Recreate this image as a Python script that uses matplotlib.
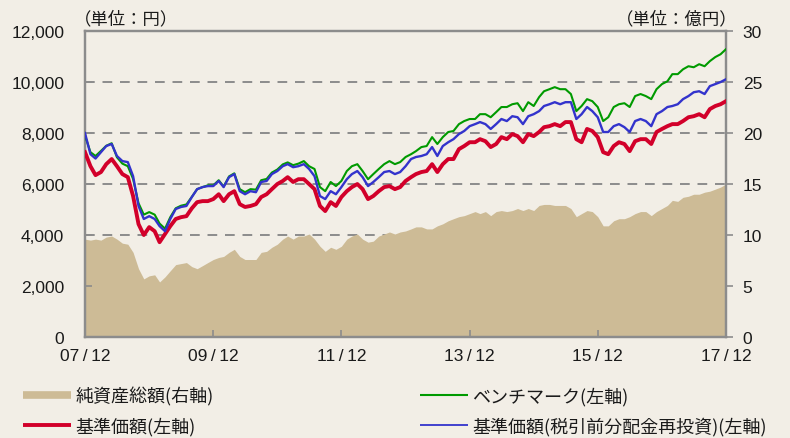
import numpy as np
import pandas as pd
import matplotlib
matplotlib.use("Agg")
import matplotlib.pyplot as plt
from matplotlib.lines import Line2D

# 月末データ 2007/12 - 2017/12
dates = pd.date_range("2007-12-31", periods=121, freq="ME")

# 基準価額（円）
nav = [
    7250, 6700, 6350, 6470, 6780, 6980, 6700, 6390, 6270, 5530,
    4430, 4000, 4310, 4150, 3720, 4040, 4350, 4630, 4700, 4740,
    5050, 5290, 5330, 5330, 5410, 5600, 5330, 5600, 5720, 5210,
    5100, 5140, 5210, 5490, 5600, 5800, 6000, 6120, 6270, 6080,
    6190, 6190, 6000, 5800, 5140, 4940, 5290, 5140, 5490, 5720,
    5880, 6000, 5800, 5410, 5530, 5720, 5880, 5920, 5800, 5880,
    6120, 6270, 6390, 6470, 6510, 6780, 6470, 6780, 6980, 6980,
    7370, 7490, 7640, 7640, 7760, 7680, 7450, 7570, 7840, 7760,
    7960, 7880, 7640, 7960, 7880, 8040, 8230, 8270, 8350, 8270,
    8430, 8430, 7760, 7640, 8160, 8080, 7840, 7250, 7170, 7490,
    7640, 7570, 7290, 7680, 7760, 7760, 7570, 8040, 8160, 8270,
    8350, 8350, 8470, 8620, 8660, 8740, 8620, 8940, 9060, 9130,
    9250,
]

# 基準価額（税引前分配金再投資）
nav_reinv = [
    8000, 7170, 7000, 7250, 7490, 7570, 7100, 6900, 6860, 6310,
    5140, 4630, 4740, 4630, 4350, 4150, 4630, 5020, 5100, 5140,
    5490, 5800, 5880, 5920, 5920, 6120, 5880, 6270, 6390, 5720,
    5600, 5720, 5680, 6080, 6120, 6390, 6510, 6700, 6780, 6660,
    6700, 6780, 6590, 6310, 5530, 5410, 5720, 5600, 5880, 6190,
    6390, 6510, 6270, 5920, 6080, 6270, 6470, 6510, 6390, 6470,
    6700, 6980, 7060, 7100, 7170, 7450, 7100, 7490, 7640, 7760,
    7960, 8080, 8270, 8350, 8430, 8350, 8160, 8350, 8550, 8470,
    8660, 8620, 8350, 8660, 8740, 8860, 9060, 9130, 9210, 9130,
    9210, 9210, 8550, 8740, 9020, 8860, 8620, 8040, 8040, 8270,
    8350, 8230, 8040, 8470, 8550, 8470, 8270, 8740, 8860, 9020,
    9060, 9130, 9330, 9450, 9600, 9640, 9530, 9840, 9920, 10000,
    10110,
]

# ベンチマーク
bench = [
    7900, 7250, 7100, 7300, 7500, 7600, 7050, 6800, 6700, 6200,
    5250, 4800, 4900, 4800, 4450, 4250, 4700, 5050, 5150, 5200,
    5500, 5800, 5880, 5950, 5950, 6150, 5900, 6300, 6420, 5800,
    5680, 5800, 5780, 6150, 6200, 6450, 6570, 6770, 6850, 6740,
    6800, 6900, 6700, 6590, 5880, 5720, 6080, 5920, 6120, 6510,
    6700, 6780, 6510, 6190, 6390, 6590, 6780, 6900, 6780, 6860,
    7060, 7170, 7290, 7450, 7490, 7840, 7570, 7840, 8040, 8080,
    8350, 8470, 8550, 8550, 8740, 8740, 8620, 8820, 9020, 9020,
    9130, 9170, 8860, 9210, 9060, 9410, 9640, 9720, 9800, 9720,
    9720, 9530, 8860, 9060, 9330, 9250, 9020, 8470, 8620, 9020,
    9130, 9170, 9020, 9450, 9530, 9450, 9330, 9720, 9920, 10030,
    10310, 10310, 10500, 10620, 10580, 10700, 10620, 10820, 10980, 11090,
    11290,
]

# 純資産総額（億円）
net_assets = [
    9.6, 9.5, 9.6, 9.5, 9.8, 9.9, 9.6, 9.2, 9.1, 8.3,
    6.7, 5.7, 6.0, 6.1, 5.4, 5.9, 6.5, 7.1, 7.2, 7.3,
    6.9, 6.7, 7.0, 7.3, 7.6, 7.8, 7.9, 8.3, 8.6, 7.9,
    7.6, 7.6, 7.6, 8.3, 8.4, 8.8, 9.1, 9.6, 9.9, 9.6,
    9.9, 9.9, 10.1, 9.6, 8.9, 8.4, 8.8, 8.6, 8.9, 9.6,
    9.9, 10.1, 9.6, 9.3, 9.4, 9.9, 10.1, 10.3, 10.1, 10.3,
    10.4, 10.6, 10.8, 10.8, 10.6, 10.6, 10.9, 11.1, 11.4, 11.6,
    11.8, 11.9, 12.1, 12.3, 12.1, 12.3, 11.9, 12.3, 12.4, 12.3,
    12.4, 12.6, 12.4, 12.6, 12.4, 12.9, 13.0, 13.0, 12.9, 12.9,
    12.9, 12.6, 11.8, 12.1, 12.4, 12.3, 11.8, 10.9, 10.9, 11.4,
    11.6, 11.6, 11.8, 12.1, 12.3, 12.3, 11.9, 12.3, 12.6, 12.9,
    13.4, 13.3, 13.7, 13.8, 14.0, 14.0, 14.2, 14.3, 14.5, 14.7,
    15.0,
]

left_ticks = [0, 2000, 4000, 6000, 8000, 10000, 12000]
right_ticks = [0, 5, 10, 15, 20, 25, 30]
x_tick_dates = pd.to_datetime(["2007-12-31", "2009-12-31", "2011-12-31",
                               "2013-12-31", "2015-12-31", "2017-12-31"])
x_tick_labels = ["07\u2009/\u200912", "09\u2009/\u200912", "11\u2009/\u200912",
                 "13\u2009/\u200912", "15\u2009/\u200912", "17\u2009/\u200912"]

BG = "#F2EEE6"
GRAY = "#8C8C8C"
TAN = "#CDBB96"
RED = "#D2002A"
GREEN = "#009A00"
BLUE = "#3333CC"
TXT = "#1A1A1A"

jp = ["Noto Sans CJK JP", "DejaVu Sans"]
num = ["Liberation Sans", "DejaVu Sans"]

fig = plt.figure(figsize=(7.9, 4.39), dpi=100, facecolor=BG)
ax = fig.add_axes([0.1076, 0.230, 0.8114, 0.697])
ax_r = ax.twinx()
ax.set_zorder(ax_r.get_zorder() + 1)
ax.patch.set_visible(False)
ax_r.set_facecolor(BG)

# 純資産総額（右軸）
ax_r.fill_between(dates, net_assets, 0, color=TAN, lw=0, zorder=2)
ax_r.set_ylim(0, 30)
ax_r.set_yticks(right_ticks)
ax_r.yaxis.grid(True, color=GRAY, lw=1.4, ls=(0, (5, 4)), zorder=1)
ax_r.set_axisbelow(True)

# 価格系列（左軸）
ax.plot(dates, nav, color=RED, lw=2.8, zorder=3)
ax.plot(dates, bench, color=GREEN, lw=1.5, zorder=4)
ax.plot(dates, nav_reinv, color=BLUE, lw=1.7, zorder=5)

ax.set_ylim(0, 12000)
ax.set_yticks(left_ticks)
ax.set_yticklabels([f"{v:,}" for v in left_ticks])
ax.set_xlim(dates[0], dates[-1])
ax.set_xticks(x_tick_dates)
ax.set_xticklabels(x_tick_labels)

for a in (ax, ax_r):
    for s in a.spines.values():
        s.set_color(GRAY)
        s.set_linewidth(1.6)

ax.tick_params(axis="y", direction="in", length=5, width=1.2, color=GRAY,
               labelsize=12.5, labelcolor=TXT, pad=15)
ax.tick_params(axis="x", direction="in", length=5, width=1.2, color=GRAY,
               labelsize=12.5, labelcolor=TXT, pad=8)
ax_r.tick_params(axis="y", direction="out", length=5, width=1.2, color=GRAY,
                 labelsize=12.5, labelcolor=TXT, pad=7)
for lab in ax.get_yticklabels() + ax_r.get_yticklabels() + ax.get_xticklabels():
    lab.set_family(num)

fig.text(0.094, 0.956, "（単位：円）", family=jp, fontsize=12.5, color=TXT,
         ha="left", va="center")
fig.text(0.934, 0.956, "（単位：億円）", family=jp, fontsize=12.5, color=TXT,
         ha="right", va="center")

leg_kw = dict(loc="upper left", frameon=False, borderpad=0, borderaxespad=0,
              handlelength=2.67, handletextpad=0.22, labelspacing=0.62,
              prop={"family": jp, "size": 13})
leg1 = fig.legend([Line2D([], [], color=TAN, lw=5.5, solid_capstyle="butt"),
                   Line2D([], [], color=RED, lw=2.8, solid_capstyle="butt")],
                  ["純資産総額(右軸)", "基準価額(左軸)"],
                  bbox_to_anchor=(0.029, 0.117), **leg_kw)
leg2 = fig.legend([Line2D([], [], color=GREEN, lw=1.5, solid_capstyle="butt"),
                   Line2D([], [], color=BLUE, lw=1.3, solid_capstyle="butt")],
                  ["ベンチマーク(左軸)", "基準価額(税引前分配金再投資)(左軸)"],
                  bbox_to_anchor=(0.532, 0.117), **leg_kw)
for lg in (leg1, leg2):
    for t in lg.get_texts():
        t.set_color(TXT)

fig.savefig("out.png", dpi=100, facecolor=BG)
